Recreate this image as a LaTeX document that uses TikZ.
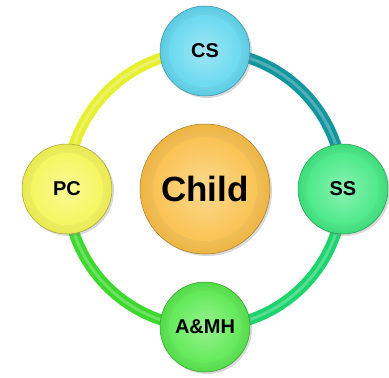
\documentclass[tikz,border=0pt]{standalone}
\usepackage{fontspec}
\setmainfont{Liberation Sans}
\usetikzlibrary{shadows,backgrounds,calc}

\definecolor{cscol}{HTML}{5ED6EE}
\definecolor{sscol}{HTML}{3DE87F}
\definecolor{amhcol}{HTML}{55E84A}
\definecolor{pccol}{HTML}{F6F552}
\definecolor{childcol}{HTML}{F9BE45}
\definecolor{cstoss}{HTML}{13959E}
\definecolor{sstoamh}{HTML}{1ED36E}
\definecolor{amhtopc}{HTML}{3DD82D}
\definecolor{pctocs}{HTML}{E6EE30}

\tikzset{
  ball/.style={circle, draw=#1!65!black, line width=0.5pt,
    shading=radial, inner color=#1!40!white, outer color=#1!95!black,
    drop shadow={opacity=0.3, shadow xshift=2pt, shadow yshift=-2pt},
    path picture={
      \path let \p1=(path picture bounding box.north),
                \p2=(path picture bounding box.center) in
        [shading=radial, inner color=#1!60!white, outer color=#1]
        (\p2) circle[radius={0.8*(\y1-\y2)}];
    }},
  small/.style={minimum size=90pt, font=\fontsize{20}{22}\selectfont\bfseries},
  big/.style={minimum size=130pt, font=\fontsize{35}{37}\selectfont\bfseries},
  ring/.style={line width=11pt, line cap=round},
  shine/.style={line width=3pt, white, opacity=0.25},
}

\begin{document}
\begin{tikzpicture}[x=1pt, y=1pt]
  \useasboundingbox (-205,-189) rectangle (184,189);

  \node[ball=childcol, big] (child) at (0,0) {Child};
  \node[ball=cscol, small] (cs) at (90:138) {CS};
  \node[ball=sscol, small] (ss) at (0:138) {SS};
  \node[ball=amhcol, small] (amh) at (270:138) {A\&MH};
  \node[ball=pccol, small] (pc) at (180:138) {PC};

  % ring behind the balls
  \begin{pgfonlayer}{background}
    \draw[ring, pctocs] (pc.center) to[bend left=45] (cs.center);
    \draw[ring, cstoss] (cs.center) to[bend left=45] (ss.center);
    \draw[ring, sstoamh] (ss.center) to[bend left=45] (amh.center);
    \draw[ring, amhtopc] (amh.center) to[bend left=45] (pc.center);
    \draw[shine] (pc.center) to[bend left=45] (cs.center)
      to[bend left=45] (ss.center) to[bend left=45] (amh.center)
      to[bend left=45] (pc.center);
  \end{pgfonlayer}
\end{tikzpicture}
\end{document}
